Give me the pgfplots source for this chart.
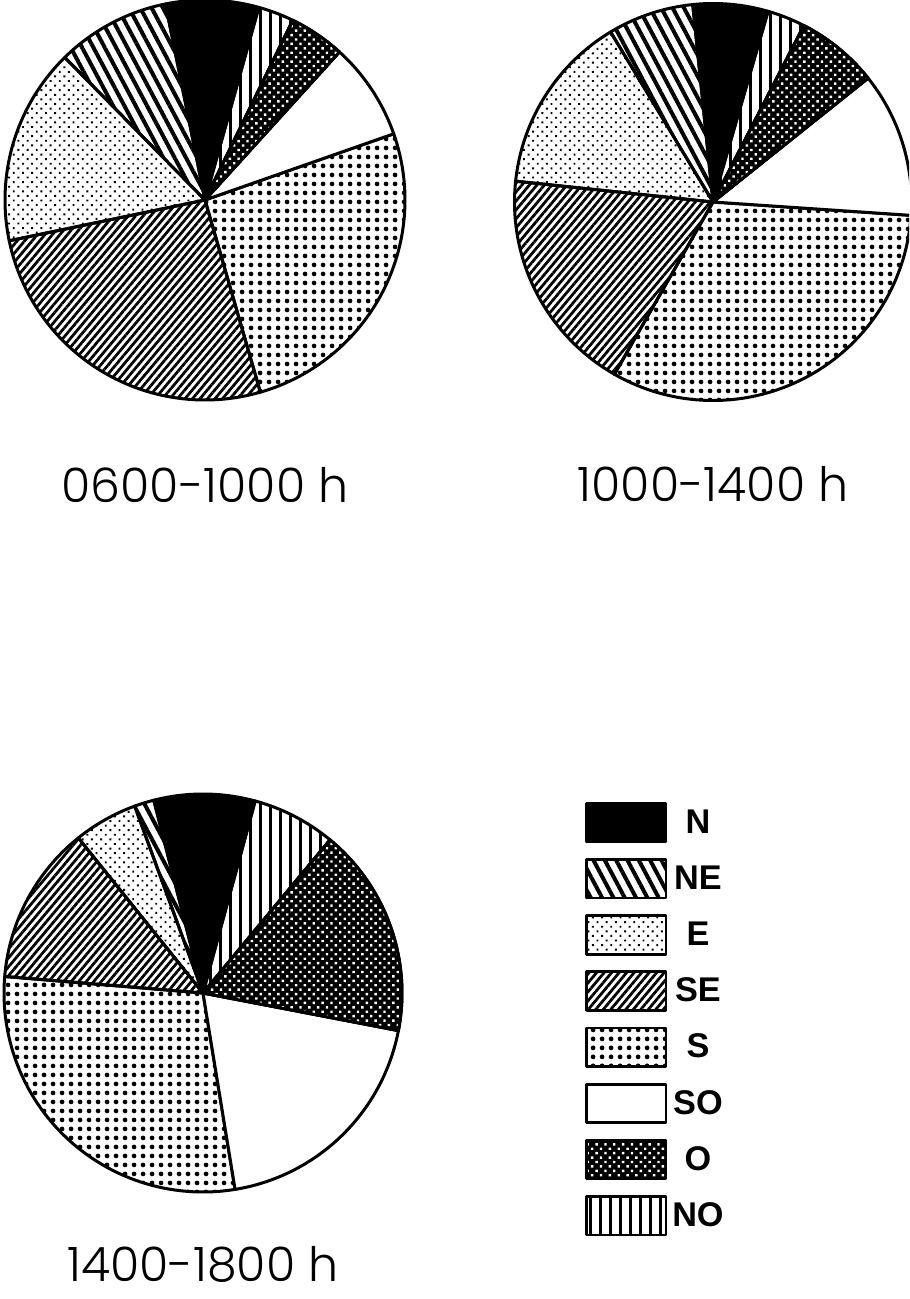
\documentclass[border=0pt]{standalone}
\usepackage{pgfplots}
\pgfplotsset{compat=1.18}
\usetikzlibrary{patterns.meta}
\usepackage{fontspec}
\setmainfont{Liberation Sans}
\newfontfamily\titlefont{Poppins Light}

% one slice = arc of the unit circle from #2 to #3 degrees, closed to the centre
\newcommand{\slice}[3]{%
  \addplot[#1, domain=#2:#3, samples=61, variable=\t] ({cos(\t)}, {sin(\t)}) -- (0,0) -- cycle;}

\pgfplotsset{
  pie/.style={hide axis, scale only axis, clip=false, anchor=center,
    xmin=-1, xmax=1, ymin=-1, ymax=1},
  wedge/.style={draw=black, line width=0.6mm, line join=round},
  pN/.style={wedge, fill=black},
  pNE/.style={wedge, pattern={Lines[angle=-62, distance=2.0mm, line width=0.8mm]}},
  pE/.style={wedge, pattern={Dots[angle=45, distance=1.3mm, radius=0.27mm]}},
  pSE/.style={wedge, pattern={Lines[angle=50, distance=1.15mm, line width=0.55mm]}},
  pS/.style={wedge, pattern={Dots[distance=1.8mm, radius=0.52mm]}},
  pSO/.style={wedge, fill=white},
  pO/.style={wedge, preaction={fill=black}, pattern={Dots[angle=45, distance=1.25mm, radius=0.34mm]}, pattern color=white},
  pNO/.style={wedge, pattern={Lines[angle=90, distance=2.0mm, line width=0.6mm]}},
}
\tikzset{ttl/.style={font=\titlefont\fontsize{27}{30}\selectfont, anchor=base, inner sep=0pt}}

\begin{document}
\begin{tikzpicture}
\useasboundingbox (0,0) rectangle (181.8mm,-259.8mm);
\clip (0,0) rectangle (181.8mm,-259.8mm);

% 0600-1000 h  (%: N 7.5, NE 9.2, E 15.9, SE 26.2, S 25.9, SO 7.9, O 4.5, NO 2.9)
\begin{axis}[pie, at={(41mm,-40mm)}, width=80mm, height=80mm]
\slice{pN}{74.4}{101.4}
\slice{pNE}{101.4}{134.52}
\slice{pE}{134.52}{191.76}
\slice{pSE}{191.76}{286.08}
\slice{pS}{286.08}{379.32}
\slice{pSO}{379.32}{407.76}
\slice{pO}{407.76}{423.96}
\slice{pNO}{423.96}{434.4}
\node[ttl] at (axis cs:0,-1.51) {0600-1000 h};
\end{axis}

% 1000-1400 h  (%: N 6.1, NE 7.0, E 14.7, SE 18.4, S 32.2, SO 11.8, O 6.7, NO 3.1)
\begin{axis}[pie, at={(142.6mm,-40.4mm)}, width=79.4mm, height=79.4mm]
\slice{pN}{73.9}{95.86}
\slice{pNE}{95.86}{121.06}
\slice{pE}{121.06}{173.98}
\slice{pSE}{173.98}{240.22}
\slice{pS}{240.22}{356.14}
\slice{pSO}{356.14}{398.62}
\slice{pO}{398.62}{422.74}
\slice{pNO}{422.74}{433.9}
\node[ttl] at (axis cs:0,-1.51) {1000-1400 h};
\end{axis}

% 1400-1800 h  (%: N 8.2, NE 1.6, E 5.2, SE 12.9, S 28.9, SO 19.4, O 17.0, NO 6.8)
\begin{axis}[pie, at={(40.6mm,-198.6mm)}, width=79.6mm, height=79.6mm]
\slice{pN}{74.8}{104.32}
\slice{pNE}{104.32}{110.08}
\slice{pE}{110.08}{128.8}
\slice{pSE}{128.8}{175.24}
\slice{pS}{175.24}{279.28}
\slice{pSO}{279.28}{349.12}
\slice{pO}{349.12}{410.32}
\slice{pNO}{410.32}{434.8}
\node[ttl] at (axis cs:0,-1.45) {1400-1800 h};
\end{axis}

% legend
\begin{axis}[hide axis, scale only axis, at={(117mm,-160.4mm)}, anchor=north west,
  width=10mm, height=10mm, xmin=0, xmax=1, ymin=0, ymax=1,
  legend cell align=center,
  legend image code/.code={\draw[#1, line width=0.55mm] (0mm,-3.85mm) rectangle (15.9mm,3.85mm);},
  legend style={at={(0,1)}, anchor=north west, draw=none, fill=none,
    inner sep=0pt, outer sep=0pt, row sep=2.98mm, column sep=1.0mm,
    nodes={inner sep=0pt}, font=\bfseries\fontsize{19.5}{22}\selectfont}]
\addlegendimage{pN}\addlegendentry{N}
\addlegendimage{pNE}\addlegendentry{NE}
\addlegendimage{pE}\addlegendentry{E}
\addlegendimage{pSE}\addlegendentry{SE}
\addlegendimage{pS}\addlegendentry{S}
\addlegendimage{pSO}\addlegendentry{SO}
\addlegendimage{pO}\addlegendentry{O}
\addlegendimage{pNO}\addlegendentry{NO}
\end{axis}
\end{tikzpicture}
\end{document}
